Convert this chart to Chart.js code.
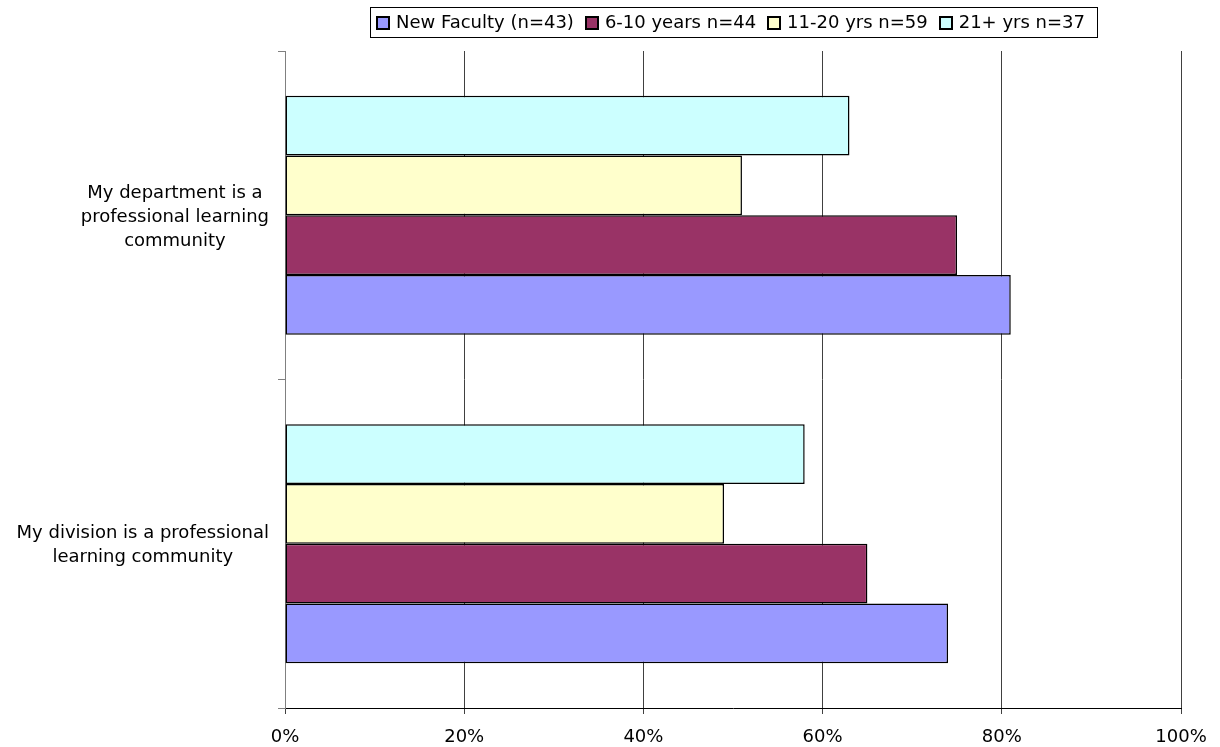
<!DOCTYPE html>
<html>
<head>
<meta charset="utf-8">
<script src="https://cdn.jsdelivr.net/npm/chart.js@4/dist/chart.umd.min.js"></script>
<style>
  html, body { margin: 0; padding: 0; background: #fff; }
  #wrap { width: 1220px; height: 747px; }
</style>
</head>
<body>
<div id="wrap"><canvas id="pcl"></canvas></div>
<script>
// Perguntas (cada linha é uma quebra no rótulo)
const categories = [
    ['My department is a', 'professional learning', 'community'],
    ['My division is a professional', 'learning community']
];

// Percentual de concordância por grupo de tempo de casa
const newFaculty = [81, 74];
const years6to10 = [75, 65];
const years11to20 = [51, 49];
const years21plus = [63, 58];

const xTicks = [0, 20, 40, 60, 80, 100];

const FONT = 'DejaVu Sans, Verdana, sans-serif';
const FONT_SIZE = 18;

// Legenda desenhada à mão: caixa com borda, centralizada sobre a área do gráfico
const boxedLegend = {
    id: 'boxedLegend',
    afterDraw(chart) {
        const ctx = chart.ctx;
        const area = chart.chartArea;
        const items = chart.data.datasets.slice().reverse();
        const box = 14, gapText = 6, gapItem = 11, padL = 6, padR = 12;
        ctx.save();
        ctx.font = FONT_SIZE + 'px ' + FONT;
        const widths = items.map(ds => box + gapText + ctx.measureText(ds.label).width);
        const total = widths.reduce((a, b) => a + b, 0) + gapItem * (items.length - 1);
        const frameW = Math.round(total + padL + padR);
        const frameL = Math.round((area.left + area.right) / 2 - frameW / 2);
        const frameT = 7, frameH = 30;
        const yc = frameT + frameH / 2;

        ctx.strokeStyle = '#000';
        ctx.lineWidth = 1;
        ctx.strokeRect(frameL + 0.5, frameT + 0.5, frameW, frameH);

        let x = frameL + padL;
        ctx.textBaseline = 'middle';
        ctx.textAlign = 'left';
        items.forEach((ds, i) => {
            const bx = Math.round(x);
            const by = Math.round(yc - box / 2) + 1;
            ctx.fillStyle = ds.backgroundColor;
            ctx.fillRect(bx, by, box, box);
            ctx.strokeStyle = '#000';
            ctx.lineWidth = 2;
            ctx.strokeRect(bx + 1, by + 1, box - 2, box - 2);
            ctx.fillStyle = '#000';
            ctx.fillText(ds.label, x + box + gapText, yc + 1);
            x += widths[i] + gapItem;
        });
        ctx.restore();
    }
};

// Rótulos do eixo Y: linhas centralizadas, bloco alinhado à direita
const categoryLabels = {
    id: 'categoryLabels',
    afterDraw(chart) {
        const scale = chart.scales.y;
        const ctx = chart.ctx;
        const lineH = 24;
        const rightEdge = scale.right - 16;
        ctx.save();
        ctx.font = FONT_SIZE + 'px ' + FONT;
        ctx.fillStyle = '#000';
        ctx.textAlign = 'center';
        ctx.textBaseline = 'middle';
        categories.forEach((lines, i) => {
            const yc = scale.getPixelForValue(i) + 2;
            const w = Math.max(...lines.map(l => ctx.measureText(l).width));
            const xc = rightEdge - w / 2;
            const y0 = yc - (lines.length - 1) * lineH / 2;
            lines.forEach((l, k) => ctx.fillText(l, xc, y0 + k * lineH));
        });
        ctx.restore();
    }
};

new Chart(document.getElementById('pcl'), {
    type: 'bar',
    data: {
        labels: categories,
        datasets: [
            { label: '21+ yrs n=37', data: years21plus, backgroundColor: '#CCFFFF' },
            { label: '11-20 yrs n=59', data: years11to20, backgroundColor: '#FFFFCC' },
            { label: '6-10 years n=44', data: years6to10, backgroundColor: '#993366' },
            { label: 'New Faculty (n=43)', data: newFaculty, backgroundColor: '#9999FF' }
        ].map(ds => Object.assign(ds, {
            borderColor: '#000',
            borderWidth: 1.5,
            borderSkipped: false,
            categoryPercentage: 0.727,
            barPercentage: 1
        }))
    },
    options: {
        indexAxis: 'y',
        responsive: true,
        maintainAspectRatio: false,
        animation: false,
        layout: { padding: { top: 51, right: 39, left: 0, bottom: 0 } },
        plugins: {
            legend: { display: false },
            tooltip: { enabled: false }
        },
        scales: {
            x: {
                min: 0,
                max: 100,
                afterBuildTicks(scale) {
                    scale.ticks = xTicks.map(v => ({ value: v }));
                },
                afterFit(scale) { scale.height = 39; },
                ticks: {
                    font: { family: FONT, size: FONT_SIZE },
                    color: '#000',
                    padding: 13,
                    maxRotation: 0,
                    callback: v => v + '%'
                },
                grid: {
                    color: '#404040',
                    lineWidth: 1,
                    tickLength: 6,
                    tickColor: '#404040'
                },
                border: { color: '#000', width: 1 }
            },
            y: {
                ticks: { display: false },
                afterFit(scale) { scale.width = 285; },
                grid: {
                    drawOnChartArea: false,
                    drawTicks: true,
                    tickLength: 7,
                    color: '#808080',
                    offset: true
                },
                border: { color: '#808080', width: 1 }
            }
        }
    },
    plugins: [boxedLegend, categoryLabels]
});
</script>
</body>
</html>
